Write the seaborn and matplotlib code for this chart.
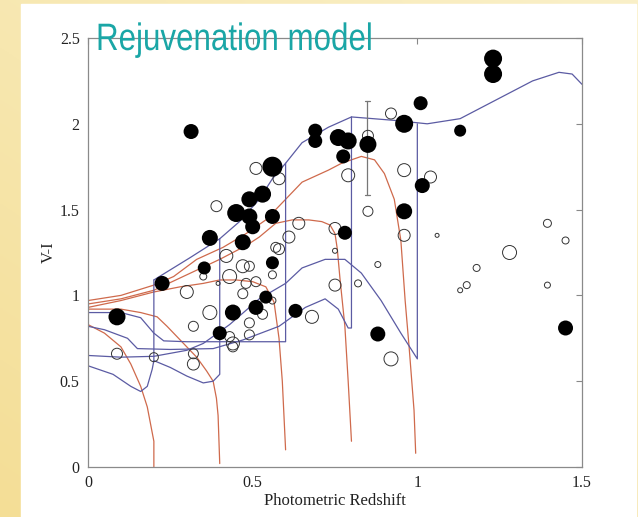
import numpy as np
import pandas as pd
import matplotlib
matplotlib.use("Agg")
import matplotlib.pyplot as plt
import matplotlib.patheffects as pe
from matplotlib.transforms import Affine2D
import seaborn as sns

# ---- galaxy colours: filled = early-type, open = others ----
filled_z = [0.088, 0.225, 0.313, 0.37, 0.353, 0.45, 0.49, 0.49, 0.50, 0.53, 0.56, 0.47, 0.56, 0.56,
            0.44, 0.40, 0.51, 0.54, 0.63, 0.69, 0.69, 0.76, 0.79, 0.775, 0.85, 0.96, 1.01, 1.015,
            0.96, 0.78, 1.13, 1.23, 1.23, 1.45, 0.88]
filled_vi = [0.875, 1.07, 1.955, 1.335, 1.16, 1.48, 1.56, 1.46, 1.40, 1.59, 1.75, 1.31, 1.46, 1.19,
             0.90, 0.78, 0.93, 0.99, 0.91, 1.96, 1.90, 1.92, 1.90, 1.81, 1.88, 2.00, 2.12, 1.64,
             1.49, 1.365, 1.96, 2.38, 2.29, 0.81, 0.775]
filled_d = [17, 15, 15, 16, 13, 18, 16, 16, 15, 17, 20, 16, 15, 13,
            16, 14, 15, 13, 14, 14, 14, 17, 17, 14, 17, 18, 14, 15,
            16, 14, 12, 18, 18, 15, 15]

open_z = [0.51, 0.58, 0.39, 0.42, 0.47, 0.49, 0.43, 0.48, 0.51, 0.56, 0.30, 0.35, 0.395, 0.57,
          0.92, 0.85, 0.79, 0.96, 1.04, 0.85, 0.96, 1.06, 0.64, 0.61, 0.58, 0.75, 0.75, 0.88,
          0.75, 0.82, 0.92, 1.18, 1.15, 1.13, 1.395, 1.395, 1.45, 1.28, 0.37, 0.32, 0.47, 0.49,
          0.49, 0.43, 0.44, 0.44, 0.53, 0.56, 0.68, 0.088, 0.20, 0.32, 0.32]
open_vi = [1.74, 1.68, 1.52, 1.23, 1.17, 1.17, 1.11, 1.07, 1.08, 1.12, 1.02, 1.11, 1.07, 1.28,
           2.06, 1.93, 1.70, 1.73, 1.69, 1.49, 1.35, 1.35, 1.42, 1.34, 1.27, 1.39, 1.26, 1.18,
           1.06, 1.07, 0.63, 1.16, 1.06, 1.03, 1.06, 1.42, 1.32, 1.25, 0.90, 0.82, 1.01, 0.84,
           0.77, 0.76, 0.72, 0.70, 0.89, 0.97, 0.875, 0.66, 0.64, 0.66, 0.60]
open_d = [12, 12, 11, 13, 13, 10, 14, 10, 10, 8, 13, 7, 4, 10,
          11, 11, 13, 13, 12, 10, 12, 4, 12, 12, 11, 12, 5, 6,
          12, 7, 14, 7, 7, 5, 6, 8, 7, 14, 14, 10, 10, 10,
          10, 10, 13, 10, 10, 7, 13, 11, 9, 10, 12]

# error bar on one object
err_z, err_lo, err_hi = 0.848, 1.585, 2.135

# ---- passive envelope (blue) ----
env_z = [0.2, 0.31, 0.4, 0.46, 0.52, 0.56, 0.6, 0.65, 0.73, 0.8, 0.93, 1.03, 1.13, 1.25, 1.35, 1.43, 1.47, 1.5]
env_vi = [1.09, 1.22, 1.33, 1.43, 1.56, 1.68, 1.77, 1.89, 1.98, 2.04, 2.02, 2.0, 2.03, 2.15, 2.25, 2.30, 2.29, 2.23]

# ---- rejuvenated tracks (blue), burst at z = 0.2 ... 1.0 ----
trk02_z = [0.2, 0.2, 0.195, 0.18, 0.16, 0.13, 0.076, 0.0]
trk02_vi = [1.09, 0.62, 0.57, 0.47, 0.44, 0.47, 0.54, 0.59]
trk04_z = [0.4, 0.4, 0.38, 0.35, 0.3, 0.25, 0.2]
trk04_vi = [1.33, 0.54, 0.50, 0.49, 0.53, 0.58, 0.62]
trk06_z = [0.6, 0.6, 0.45, 0.3, 0.23, 0.2, 0.16, 0.1, 0.0]
trk06_vi = [1.77, 0.73, 0.73, 0.73, 0.735, 0.78, 0.87, 0.90, 0.90]
trk08_z = [0.8, 0.8, 0.79, 0.76, 0.72, 0.66, 0.58, 0.47, 0.38, 0.25, 0.15, 0.12, 0.05, 0.0]
trk08_vi = [2.04, 0.81, 0.81, 0.92, 0.98, 0.93, 0.82, 0.74, 0.69, 0.685, 0.69, 0.75, 0.80, 0.82]
trk10_z = [1.0, 1.0, 0.95, 0.89, 0.83, 0.78, 0.72, 0.65, 0.6, 0.52, 0.43, 0.35, 0.3, 0.2, 0.1, 0.0]
trk10_vi = [2.0, 0.63, 0.78, 0.97, 1.13, 1.21, 1.21, 1.16, 1.07, 0.98, 0.83, 0.72, 0.68, 0.645, 0.64, 0.65]

# ---- young component tracks (red) ----
red02_z = [0.0, 0.05, 0.1, 0.13, 0.16, 0.18, 0.19, 0.195, 0.2, 0.2]
red02_vi = [0.83, 0.78, 0.70, 0.60, 0.47, 0.35, 0.25, 0.2, 0.15, 0.0]
red04_z = [0.0, 0.1, 0.16, 0.21, 0.24, 0.28, 0.33, 0.36, 0.38, 0.39, 0.395, 0.4]
red04_vi = [0.92, 0.92, 0.90, 0.875, 0.82, 0.74, 0.64, 0.56, 0.5, 0.4, 0.3, 0.02]
red06_z = [0.0, 0.1, 0.2, 0.28, 0.35, 0.4, 0.45, 0.5, 0.54, 0.565, 0.58, 0.59, 0.595, 0.6]
red06_vi = [0.93, 0.97, 1.02, 1.05, 1.07, 1.09, 1.09, 1.08, 1.05, 0.96, 0.75, 0.5, 0.3, 0.1]
red08_z = [0.0, 0.1, 0.2, 0.3, 0.4, 0.48, 0.52, 0.57, 0.62, 0.67, 0.71, 0.735, 0.75, 0.757, 0.765, 0.78, 0.79, 0.8]
red08_vi = [0.95, 0.98, 1.03, 1.12, 1.21, 1.29, 1.34, 1.42, 1.44, 1.44, 1.43, 1.41, 1.36, 1.27, 1.1, 0.82, 0.5, 0.15]
red10_z = [0.0, 0.1, 0.2, 0.26, 0.33, 0.41, 0.48, 0.54, 0.58, 0.65, 0.73, 0.77, 0.8, 0.83, 0.87, 0.9, 0.93, 0.95, 0.963, 0.975, 0.99, 0.995]
red10_vi = [0.97, 1.0, 1.06, 1.11, 1.21, 1.28, 1.36, 1.44, 1.52, 1.66, 1.73, 1.77, 1.79, 1.81, 1.79, 1.71, 1.56, 1.32, 0.97, 0.7, 0.33, 0.08]

x_ticks = [0, 0.5, 1, 1.5]
x_labels = ["0", "0.5", "1", "1.5"]
y_ticks = [0, 0.5, 1, 1.5, 2, 2.5]
y_labels = ["0", "0.5", "1", "1.5", "2", "2.5"]

BLUE = "#5b5ba3"
RED = "#cf6a4c"

W, H = 638, 517
fig = plt.figure(figsize=(W / 100, H / 100), dpi=100)

# slide background: pale yellow with a white panel
bg = fig.add_axes([0, 0, 1, 1], zorder=-10)
gy, gx = np.mgrid[0:1:200j, 0:1:200j]
t = np.clip(0.55 * gy + 0.45 * (1 - gx), 0, 1)
c0 = np.array([250, 240, 200]) / 255
c1 = np.array([244, 222, 150]) / 255
img = c0[None, None, :] * (1 - t[..., None]) + c1[None, None, :] * t[..., None]
bg.imshow(img, extent=[0, 1, 0, 1], aspect="auto", origin="upper")
bg.add_patch(plt.Rectangle((21 / W, 0), (636 - 21) / W, 1 - 4 / H, color="white"))
bg.set_xlim(0, 1)
bg.set_ylim(0, 1)
bg.axis("off")

sns.set_style("white")
plt.rcParams["font.family"] = ["Liberation Serif", "DejaVu Serif"]

ax = fig.add_axes([88 / W, 1 - 467 / H, (582 - 88) / W, (467 - 38) / H])
ax.set_facecolor("none")


def line(xs, ys, color):
    sns.lineplot(x=xs, y=ys, sort=False, estimator=None, color=color, lw=0.9, ax=ax, zorder=2)


for xs, ys in [(red02_z, red02_vi), (red04_z, red04_vi), (red06_z, red06_vi),
               (red08_z, red08_vi), (red10_z, red10_vi)]:
    line(xs, ys, RED)
for xs, ys in [(env_z, env_vi), (trk02_z, trk02_vi), (trk04_z, trk04_vi), (trk06_z, trk06_vi),
               (trk08_z, trk08_vi), (trk10_z, trk10_vi)]:
    line(xs, ys, BLUE)

ax.plot([err_z, err_z], [err_lo, err_hi], color="#777777", lw=0.9, zorder=3)
ax.plot([err_z - 0.008, err_z + 0.008], [err_lo, err_lo], color="#777777", lw=0.9, zorder=3)
ax.plot([err_z - 0.008, err_z + 0.008], [err_hi, err_hi], color="#777777", lw=0.9, zorder=3)

open_s = [(d * 0.72) ** 2 for d in open_d]
filled_s = [(d * 0.72) ** 2 for d in filled_d]
sns.scatterplot(x=open_z, y=open_vi, s=open_s, facecolor="none", edgecolor="#333333",
                linewidth=0.7, ax=ax, zorder=4)
sns.scatterplot(x=filled_z, y=filled_vi, s=filled_s, color="black", edgecolor="none",
                linewidth=0, ax=ax, zorder=5)

ax.set_xlim(0, 1.5)
ax.set_ylim(0, 2.5)
ax.set_xticks(x_ticks, x_labels)
ax.set_yticks(y_ticks, y_labels)
ax.tick_params(direction="in", length=4, width=0.8, color="#888888", labelsize=11.5,
               top=True, right=True, labelcolor="#222222", pad=6)
for sp in ax.spines.values():
    sp.set_visible(True)
    sp.set_color("#8a8a8a")
    sp.set_linewidth(0.9)
ax.set_xlabel("Photometric Redshift", fontsize=12, color="#222222", labelpad=1)
ax.set_ylabel("V-I", fontsize=12, color="#222222", labelpad=2)


class Squeeze(pe.AbstractPathEffect):
    """Draw the glyph outlines narrowed horizontally about a fixed x (in pixels)."""

    def __init__(self, x0, sx):
        super().__init__()
        self.x0, self.sx = x0, sx

    def draw_path(self, renderer, gc, tpath, affine, rgbFace=None):
        squeeze = Affine2D().translate(-self.x0, 0).scale(self.sx, 1).translate(self.x0, 0)
        renderer.draw_path(gc, tpath, affine + squeeze, rgbFace)


title_x = 96
fig.text(title_x / W, 1 - 50 / H, "Rejuvenation model", color="#1aa6a6", fontsize=27.5,
         family=["Liberation Sans", "DejaVu Sans"], ha="left", va="baseline",
         path_effects=[Squeeze(title_x, 0.82)])

fig.savefig("out.png", dpi=100)
